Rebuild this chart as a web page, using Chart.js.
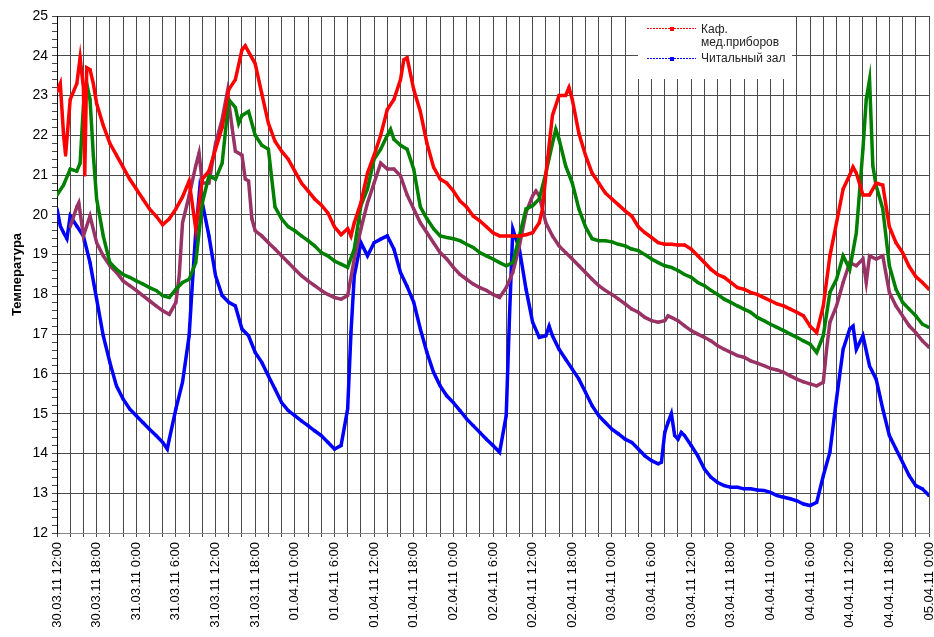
<!DOCTYPE html>
<html>
<head>
<meta charset="utf-8">
<script src="https://cdn.jsdelivr.net/npm/chart.js@4.4.1/dist/chart.umd.min.js"></script>
<style>
  html, body { margin: 0; padding: 0; background: #fff; }
  #wrap { width: 934px; height: 637px; }
</style>
</head>
<body>
<div id="wrap"><canvas id="temp-chart" width="934" height="637"></canvas></div>
<script>
// x values are hours since 30.03.11 12:00
const tickLabels = ['30.03.11 12:00', '30.03.11 18:00', '31.03.11 0:00', '31.03.11 6:00', '31.03.11 12:00',
  '31.03.11 18:00', '01.04.11 0:00', '01.04.11 6:00', '01.04.11 12:00', '01.04.11 18:00', '02.04.11 0:00',
  '02.04.11 6:00', '02.04.11 12:00', '02.04.11 18:00', '03.04.11 0:00', '03.04.11 6:00', '03.04.11 12:00',
  '03.04.11 18:00', '04.04.11 0:00', '04.04.11 6:00', '04.04.11 12:00', '04.04.11 18:00', '05.04.11 0:00'];

// Каф. мед.приборов (red)
const redHours = [0, 0.5, 1, 1.3, 2, 3, 3.5, 4, 4.2, 4.5, 5, 5.5, 6, 7, 8, 9, 10, 11, 12, 13, 14, 15, 16, 17, 18, 19, 20, 21, 22, 23, 24, 25, 26, 27,
  28, 28.5, 29, 30, 31, 32, 33, 34, 35, 36, 37, 38, 39, 40, 41, 42, 43, 44, 44.5, 45, 46, 47, 48, 49, 50, 51, 52, 52.5,
  53, 54, 55, 56, 57, 58, 59, 60, 61, 62, 63, 64, 65, 66, 67, 68, 69, 70, 71, 72, 73, 73.5, 74, 75, 76, 77, 77.5, 78,
  79, 80, 81, 82, 83, 84, 85, 86, 87, 88, 89, 90, 91, 92, 93, 94, 95, 96, 97, 98, 99, 100, 101, 102, 103, 104, 105,
  106, 107, 108, 109, 110, 111, 112, 113, 114, 115, 116, 117, 118, 119, 120, 120.5, 121, 122, 123, 124, 125, 126,
  127, 128, 129, 130, 131, 132];
const redTemps = [23.1, 23.3, 22.0, 21.5, 22.9, 23.3, 23.95, 23.2, 21.0, 23.7, 23.65, 23.3, 22.8, 22.25, 21.8, 21.5, 21.2, 20.9,
  20.65, 20.4, 20.15, 19.97, 19.75, 19.9, 20.15, 20.45, 20.85, 19.65, 20.9, 21.1, 21.65, 22.2, 23.15, 23.4,
  24.15, 24.25, 24.1, 23.8, 23.05, 22.3, 21.85, 21.6, 21.4, 21.1, 20.8, 20.6, 20.4, 20.25, 20.05, 19.7, 19.5, 19.65,
  19.47, 19.8, 20.3, 21.05, 21.5, 22.0, 22.65, 22.9, 23.4, 23.9,
  23.95, 23.15, 22.6, 21.8, 21.2, 20.9, 20.8, 20.6, 20.35, 20.2, 19.97, 19.85, 19.7, 19.55, 19.47, 19.47, 19.47,
  19.47, 19.5, 19.55, 19.8, 20.15, 21.0, 22.5, 23.0, 23.0, 23.2, 22.9,
  22.05, 21.5, 21.05, 20.8, 20.55, 20.4, 20.25, 20.1, 19.97, 19.7, 19.55, 19.43, 19.3, 19.26, 19.26, 19.24, 19.24,
  19.14, 18.97, 18.8, 18.63, 18.5, 18.43, 18.3, 18.17, 18.13, 18.05,
  18.0, 17.92, 17.84, 17.76, 17.71, 17.63, 17.55, 17.46, 17.2, 17.04, 17.71, 18.97, 19.8, 20.65, 21.0, 21.2, 21.05,
  20.5, 20.5, 20.8, 20.75, 19.7, 19.3, 19.05, 18.7, 18.45, 18.3, 18.13];

// green
const greenHours = [0, 1, 2, 3, 3.5, 4, 4.5, 5, 5.5, 6, 7, 8, 9, 10, 11, 12, 13, 14, 15, 16, 17, 18, 19, 20, 21, 22, 23, 24, 25, 26,
  27, 27.5, 28, 29, 30, 31, 32, 33, 34, 35, 36, 37, 38, 39, 40, 41, 42, 43, 44, 45, 46, 47, 48, 49, 50, 50.5, 51, 52,
  53, 54, 55, 56, 57, 58, 59, 60, 61, 62, 63, 64, 65, 66, 67, 68, 69, 70, 71, 72, 73, 74, 75, 75.5, 76, 77, 78, 79,
  80, 81, 82, 83, 84, 85, 86, 87, 88, 89, 90, 91, 92, 93, 94, 95, 96, 97, 98, 99, 100, 101, 102, 103, 104, 105, 106,
  107, 108, 109, 110, 111, 112, 113, 114, 115, 116, 117, 118, 119, 120, 121, 122, 122.5, 123, 123.5, 124, 125, 126,
  127, 128, 129, 130, 131, 132];
const greenTemps = [20.5, 20.75, 21.15, 21.1, 21.3, 22.75, 23.3, 22.9, 21.5, 20.4, 19.47, 18.8, 18.63, 18.5, 18.43, 18.34,
  18.26, 18.17, 18.1, 17.97, 17.92, 18.13, 18.3, 18.38, 18.8, 20.3, 20.98, 20.9, 21.3, 22.9,
  22.7, 22.3, 22.5, 22.6, 22.0, 21.75, 21.65, 20.2, 19.9, 19.7, 19.6, 19.47, 19.35, 19.22, 19.05, 18.97, 18.84, 18.76,
  18.68, 19.14, 20.23, 20.65, 21.4, 21.65, 22.0, 22.15, 21.9, 21.75,
  21.65, 21.15, 20.2, 19.9, 19.65, 19.47, 19.43, 19.4, 19.35, 19.26, 19.18, 19.05, 18.97, 18.89, 18.8, 18.72, 18.8,
  19.47, 20.15, 20.23, 20.4, 21.05, 21.8, 22.15, 21.9, 21.23, 20.8, 20.15,
  19.7, 19.4, 19.35, 19.35, 19.32, 19.26, 19.22, 19.14, 19.1, 19.0, 18.89, 18.8, 18.72, 18.68, 18.6, 18.5, 18.43,
  18.3, 18.22, 18.1, 18.0, 17.88, 17.8, 17.71, 17.63, 17.55, 17.42,
  17.34, 17.25, 17.17, 17.09, 17.0, 16.92, 16.83, 16.75, 16.54, 16.96, 18.05, 18.38, 18.97, 18.63, 19.55, 21.65,
  22.9, 23.4, 21.23, 20.73, 20.15, 18.72, 18.13, 17.8, 17.63, 17.46, 17.25, 17.17];

// purple
const purpleHours = [2, 3, 3.3, 4, 5, 6, 7, 8, 9, 10, 11, 12, 13, 14, 15, 16, 17, 18, 18.5, 19, 20, 21, 21.5, 22, 23, 24, 25,
  25.8, 26.5, 27, 28, 28.5, 29, 29.5, 30, 31, 32, 33, 34, 35, 36, 37, 38, 39, 40, 41, 42, 43, 44, 45, 46, 47, 48, 49,
  50, 51, 52, 53, 54, 55, 56, 57, 58, 59, 60, 61, 62, 63, 64, 65, 66, 67, 68, 69, 70, 71, 72, 72.5, 73, 74, 75, 76,
  77, 78, 79, 80, 81, 82, 83, 84, 85, 86, 87, 88, 89, 90, 91, 92, 92.5, 93, 94, 95, 96, 97, 98, 99, 100, 101, 102,
  103, 104, 105, 106, 107, 108, 109, 110, 111, 112, 113, 114, 115, 116, 116.5, 117, 118, 119, 120, 121, 122, 122.5,
  123, 124, 125, 126, 127, 128, 129, 130, 131, 132];
const purpleTemps = [19.7, 20.2, 20.3, 19.47, 19.97, 19.3, 18.97, 18.72, 18.55, 18.34, 18.22, 18.1, 17.97, 17.84, 17.71,
  17.59, 17.5, 17.8, 18.47, 19.8, 20.48, 21.23, 21.55, 20.8, 20.8, 21.8, 22.4,
  23.1, 22.2, 21.6, 21.5, 20.9, 20.85, 19.9, 19.6, 19.47, 19.3, 19.14, 18.97, 18.8, 18.63, 18.47, 18.34, 18.22, 18.1,
  18.0, 17.92, 17.88, 17.97, 18.89, 19.64, 20.3, 20.8, 21.3,
  21.15, 21.15, 20.98, 20.5, 20.15, 19.8, 19.55, 19.3, 19.05, 18.89, 18.68, 18.5, 18.38, 18.26, 18.17, 18.1, 18.0,
  17.92, 18.17, 18.55, 19.22, 20.06, 20.48, 20.6, 20.48, 19.8, 19.47, 19.22,
  19.05, 18.89, 18.72, 18.55, 18.38, 18.22, 18.1, 18.0, 17.88, 17.76, 17.63, 17.55, 17.42, 17.34, 17.3, 17.34, 17.46,
  17.42, 17.34, 17.21, 17.09, 17.0, 16.92, 16.83, 16.71, 16.62, 16.54,
  16.46, 16.42, 16.33, 16.27, 16.21, 16.14, 16.1, 16.04, 15.95, 15.87, 15.8, 15.75, 15.7, 15.79, 16.62, 17.3, 17.71,
  18.3, 18.8, 18.72, 18.89, 18.3,
  18.97, 18.89, 18.97, 18.05, 17.71, 17.46, 17.21, 17.04, 16.83, 16.67];

// Читальный зал (blue)
const blueHours = [0, 0.5, 1, 1.5, 2, 3, 4, 5, 6, 7, 8, 9, 10, 11, 12, 13, 14, 15, 16, 16.7, 17, 18, 19, 20, 20.5, 21, 21.6, 22,
  23, 24, 25, 26, 27, 28, 29, 30, 31, 32, 33, 34, 35, 36, 37, 38, 39, 40, 41, 42, 43, 44, 44.5, 45, 46, 47, 48, 49,
  50, 51, 52, 53, 54, 55, 56, 57, 58, 59, 60, 61, 62, 63, 64, 65, 66, 67, 68, 68.5, 69, 70, 71, 72, 73, 74, 74.5, 75,
  76, 77, 78, 79, 80, 81, 82, 83, 84, 85, 86, 87, 88, 89, 90, 91, 91.5, 92, 92.5, 93, 93.5, 94, 94.5, 95, 96, 97, 98,
  99, 100, 101, 102, 103, 104, 105, 106, 107, 108, 109, 110, 111, 112, 113, 114, 115, 116, 117, 118, 119, 120, 120.5,
  121, 122, 123, 124, 125, 126, 127, 128, 129, 130, 131, 132];
const blueTemps = [20.15, 19.72, 19.55, 19.4, 19.97, 19.72, 19.47, 18.8, 17.88, 16.96, 16.29, 15.7, 15.37, 15.12, 14.95,
  14.78, 14.61, 14.45, 14.28, 14.11, 14.36, 15.12, 15.79, 16.96, 18.3, 19.55, 20.65, 20.3,
  19.47, 18.47, 17.97, 17.8, 17.71, 17.13, 16.96, 16.54, 16.29, 15.95, 15.62, 15.28, 15.08, 14.95, 14.82, 14.7, 14.57,
  14.45, 14.28, 14.11, 14.2, 15.12, 17.04, 18.47, 19.3, 18.97, 19.3, 19.39,
  19.47, 19.14, 18.55, 18.2, 17.8, 17.13, 16.54, 16.04, 15.7, 15.45, 15.28, 15.08, 14.87, 14.7, 14.53, 14.36, 14.2,
  14.03, 14.95, 17.46, 19.64, 19.14, 18.13, 17.3, 16.92, 16.96, 17.2, 16.96,
  16.62, 16.37, 16.12, 15.87, 15.54, 15.2, 14.95, 14.78, 14.61, 14.49, 14.36, 14.28, 14.11, 13.94, 13.82, 13.74,
  13.78, 14.53, 14.78, 15.0, 14.45, 14.36, 14.53, 14.45, 14.2, 13.94, 13.61,
  13.4, 13.27, 13.19, 13.15, 13.15, 13.11, 13.11, 13.08, 13.07, 13.02, 12.94, 12.9, 12.86, 12.81, 12.73, 12.69, 12.77,
  13.44, 14.03, 15.37, 16.62, 17.13, 17.2,
  16.62, 16.96, 16.2, 15.87, 15.12, 14.45, 14.11, 13.78, 13.44, 13.19, 13.11, 12.94];

function toPoints(hours, temps) {
  return hours.map((h, i) => ({ x: h, y: temps[i] }));
}

function makeSet(label, hours, temps, color) {
  return {
    label: label,
    data: toPoints(hours, temps),
    borderColor: color,
    backgroundColor: color,
    borderWidth: 3.5,
    pointStyle: 'rect',
    pointRadius: 2,
    pointBorderWidth: 0,
    tension: 0
  };
}

// white page background
const whiteBg = {
  id: 'whiteBg',
  beforeDraw(chart) {
    const ctx = chart.ctx;
    ctx.save();
    ctx.fillStyle = '#fff';
    ctx.fillRect(0, 0, chart.width, chart.height);
    ctx.restore();
  }
};

// legend box in the top right, only two entries like the original
const boxLegend = {
  id: 'boxLegend',
  afterDraw(chart) {
    const ctx = chart.ctx;
    ctx.save();
    ctx.fillStyle = '#fff';
    ctx.fillRect(638, 17, 154, 62);

    function entry(color, y) {
      ctx.strokeStyle = color;
      ctx.lineWidth = 1;
      ctx.setLineDash([2, 1]);
      ctx.beginPath();
      ctx.moveTo(647, y + 0.5);
      ctx.lineTo(696, y + 0.5);
      ctx.stroke();
      ctx.setLineDash([]);
      ctx.fillStyle = color;
      ctx.fillRect(670, y - 1, 4, 4);
    }
    entry('#ff0000', 28);
    entry('#0000ff', 58);

    ctx.fillStyle = '#222';
    ctx.font = '12px "Liberation Sans", Arial, sans-serif';
    ctx.textBaseline = 'middle';
    ctx.textAlign = 'left';
    ctx.fillText('Каф.', 701, 30);
    ctx.fillText('мед.приборов', 701, 43);
    ctx.fillText('Читальный зал', 701, 59);
    ctx.restore();
  }
};

const isWhole = (v) => Math.abs(v - Math.round(v)) < 1e-6;

let tempChart = new Chart('temp-chart', {
  type: 'line',
  data: {
    datasets: [
      makeSet('Каф. мед.приборов', redHours, redTemps, '#ff0000'),
      makeSet('green', greenHours, greenTemps, '#008000'),
      makeSet('purple', purpleHours, purpleTemps, '#993366'),
      makeSet('Читальный зал', blueHours, blueTemps, '#0000ff')
    ]
  },
  options: {
    responsive: false,
    animation: false,
    layout: {
      padding: { left: 0, right: 5, top: 16, bottom: 0 }
    },
    plugins: {
      legend: { display: false },
      tooltip: { enabled: false }
    },
    scales: {
      x: {
        type: 'linear',
        min: 0,
        max: 132,
        afterFit(scale) {
          scale.height = 104;
          scale.paddingLeft = 0;
          scale.paddingRight = 0;
        },
        border: { color: '#888', width: 1 },
        grid: {
          color: '#4a4a4a',
          lineWidth: 1,
          tickLength: 4,
          tickColor: '#4a4a4a'
        },
        ticks: {
          stepSize: 2,
          autoSkip: false,
          minRotation: 90,
          maxRotation: 90,
          padding: 5,
          color: '#000',
          font: { family: '"Liberation Sans", Arial, sans-serif', size: 13 },
          callback: function (value) {
            const h = Math.round(value);
            return h % 6 === 0 ? tickLabels[h / 6] : '';
          }
        }
      },
      y: {
        min: 12,
        max: 25,
        afterFit(scale) {
          scale.width = 57;
        },
        border: { color: '#000', width: 1 },
        grid: {
          color: (ctx) => (ctx.tick && isWhole(ctx.tick.value) ? '#4a4a4a' : 'rgba(0,0,0,0)'),
          tickColor: '#4a4a4a',
          tickLength: 5,
          lineWidth: 1
        },
        ticks: {
          stepSize: 0.2,
          autoSkip: false,
          padding: 4,
          color: '#000',
          font: { family: '"Liberation Sans", Arial, sans-serif', size: 14 },
          callback: function (value) {
            return isWhole(value) ? String(Math.round(value)) : '';
          }
        },
        title: {
          display: true,
          text: 'Температура',
          color: '#000',
          padding: { top: 10, bottom: 0 },
          font: { family: '"Liberation Sans", Arial, sans-serif', size: 13, weight: 'bold' }
        }
      }
    }
  },
  plugins: [whiteBg, boxLegend]
});
</script>
</body>
</html>
